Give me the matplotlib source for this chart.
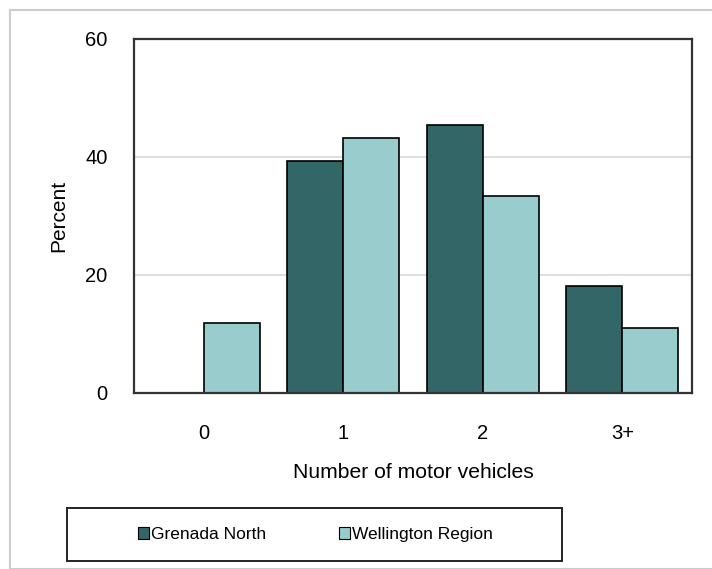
import matplotlib
matplotlib.use("Agg")
import matplotlib.pyplot as plt
from matplotlib.patches import Rectangle, Patch
import numpy as np

plt.rcParams['font.family'] = ['Liberation Sans', 'DejaVu Sans']

categories = ["0", "1", "2", "3+"]
series_names = ["Grenada North", "Wellington Region"]
grenada_north = [0.0, 39.3, 45.4, 18.2]
wellington_region = [11.9, 43.3, 33.4, 11.1]
y_ticks = [0, 20, 40, 60]

dark = "#336666"
light = "#99CCCC"

W, H = 712, 569
fig = plt.figure(figsize=(W / 100, H / 100), dpi=100)

# outer light border
fig.patches.append(Rectangle((10 / W, 0), 1, 1 - 10 / H, transform=fig.transFigure,
                             fill=False, edgecolor="#cccccc", linewidth=1.5))

ax = fig.add_axes([134 / W, 1 - 393 / H, (692 - 134) / W, (393 - 39) / H])

x = np.arange(len(categories))
bw = 0.4
ec_g = ["none" if v == 0 else "black" for v in grenada_north]
ax.bar(x - bw / 2, grenada_north, width=bw, color=dark, edgecolor=ec_g, linewidth=1.2, zorder=3)
ax.bar(x + bw / 2, wellington_region, width=bw, color=light, edgecolor="black", linewidth=1.2, zorder=3)

ax.set_xlim(-0.5, len(categories) - 0.5)
ax.set_ylim(0, 60)
ax.set_yticks(y_ticks)
ax.set_yticklabels([str(v) for v in y_ticks])
ax.set_xticks(x)
ax.set_xticklabels(categories)
ax.tick_params(axis="y", length=0, pad=19, labelsize=14.5)
ax.tick_params(axis="x", length=0, pad=22, labelsize=14.5)
ax.yaxis.grid(True, color="#d9d9d9", linewidth=1.2, zorder=0)
ax.set_axisbelow(True)
for s in ax.spines.values():
    s.set_color("#333333")
    s.set_linewidth(1.6)
    s.set_zorder(4)

ax.set_ylabel("Percent", fontsize=15, labelpad=12)
ax.set_xlabel("Number of motor vehicles", fontsize=15.2, labelpad=15)

# legend frame
fig.patches.append(Rectangle((67 / W, 1 - 561 / H), (562 - 67) / W, (561 - 508) / H,
                             transform=fig.transFigure, fill=False, edgecolor="#222222",
                             linewidth=1.4))
handles = [Patch(facecolor=dark, edgecolor="black", linewidth=0.8),
           Patch(facecolor=light, edgecolor="black", linewidth=0.8)]
fig.legend(handles, series_names, loc="center", ncol=2, frameon=False,
           bbox_to_anchor=(315 / W, 1 - 534.5 / H), fontsize=12.5,
           handlelength=0.65, handleheight=0.65, handletextpad=0.1, columnspacing=4.2)

fig.savefig("out.png", dpi=100)
